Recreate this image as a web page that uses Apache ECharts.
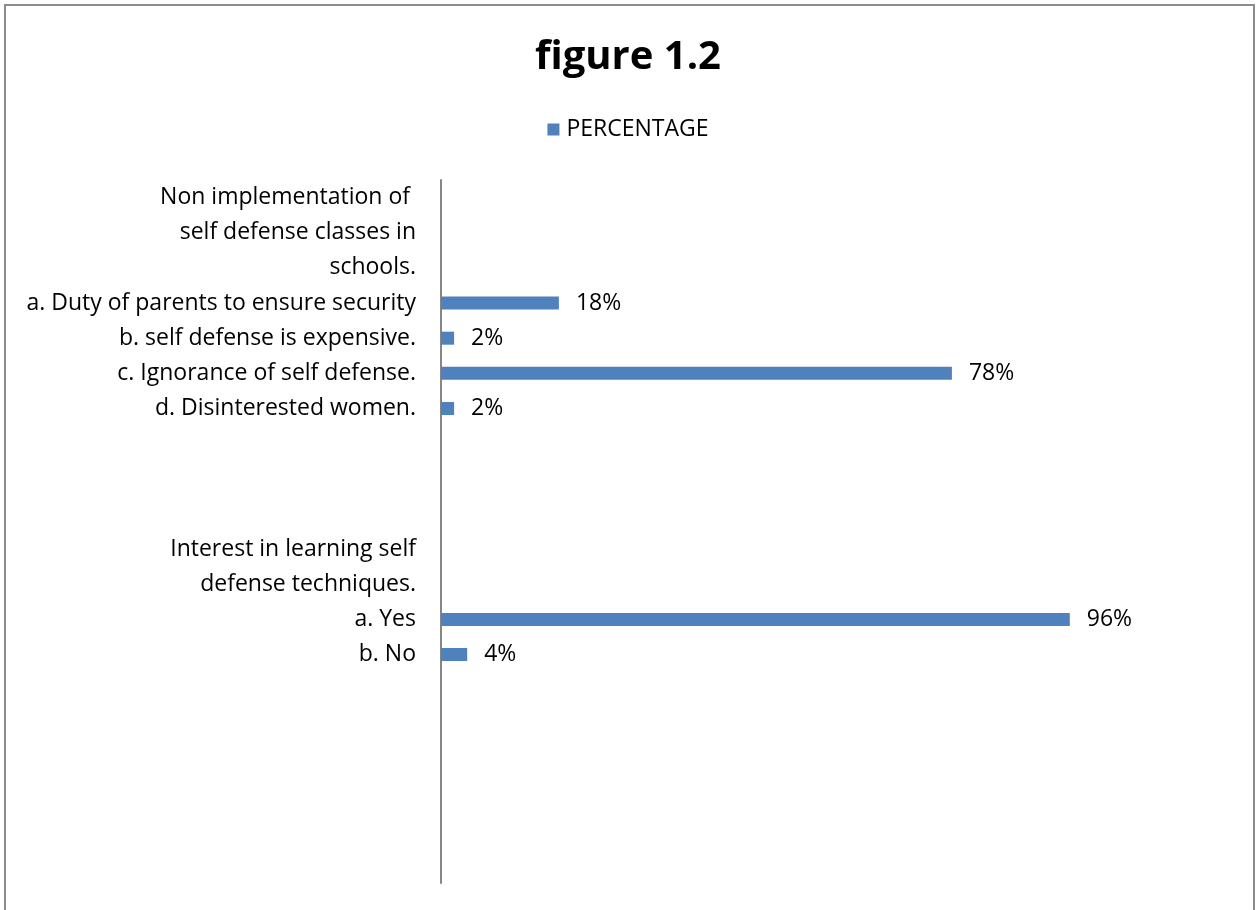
<!DOCTYPE html>
<html>
<head>
<meta charset="utf-8">
<style>
  html, body { margin: 0; padding: 0; background: #fff; }
  #chart { width: 1256px; height: 910px; }
</style>
<script src="https://cdn.jsdelivr.net/npm/echarts@6/dist/echarts.min.js"></script>
</head>
<body>
<div id="chart"></div>
<script>
// Each row of the category axis is one text line; blank rows keep the spacing.
const categories = [
  'Non implementation of ',
  'self defense classes in',
  'schools.',
  'a. Duty of parents to ensure security',
  'b. self defense is expensive.',
  'c. Ignorance of self defense.',
  'd. Disinterested women.',
  '', '', '',
  'Interest in learning self',
  'defense techniques.',
  'a. Yes',
  'b. No',
  '', '', '', '', '', ''
];
// PERCENTAGE values (null where the row is a heading or spacer)
const percentage = [null, null, null, 18, 2, 78, 2, null, null, null, null, null, 96, 4, null, null, null, null, null, null];
const seriesName = 'PERCENTAGE';
const titleText = 'figure 1.2';

const FONT = '"Open Sans", "Noto Sans", sans-serif';
const chart = echarts.init(document.getElementById('chart'));
chart.setOption({
  animation: false,
  backgroundColor: '#ffffff',
  title: {
    text: titleText,
    left: 'center',
    top: 33,
    textStyle: { fontFamily: FONT, fontSize: 40, fontWeight: 'bold', color: '#000' }
  },
  legend: {
    data: [seriesName],
    top: 113,
    left: 'center',
    icon: 'rect',
    itemWidth: 12,
    itemHeight: 12,
    itemGap: 6,
    textStyle: { fontFamily: FONT, fontSize: 23, color: '#000', padding: [0, 0, 0, 2] }
  },
  grid: { left: 441, right: 160, top: 180, bottom: 27, containLabel: false },
  xAxis: {
    type: 'value',
    min: 0,
    max: 100,
    show: false
  },
  yAxis: {
    type: 'category',
    inverse: true,
    data: categories,
    axisLine: { show: true, lineStyle: { color: '#868686', width: 2 } },
    axisTick: { show: false },
    splitLine: { show: false },
    axisLabel: {
      interval: 0,
      margin: 25,
      padding: [4, 0, 0, 0],
      fontFamily: FONT,
      fontSize: 23,
      color: '#000'
    }
  },
  series: [{
    name: seriesName,
    type: 'bar',
    data: percentage,
    barWidth: 13,
    itemStyle: { color: '#4F81BD' },
    label: {
      show: true,
      position: 'right',
      distance: 17,
      padding: [5, 0, 0, 0],
      formatter: p => p.value + '%',
      fontFamily: FONT,
      fontSize: 23,
      color: '#000'
    }
  }],
  graphic: [{
    type: 'rect',
    shape: { x: 5, y: 5, width: 1249, height: 920 },
    style: { fill: 'none', stroke: '#8c8c8c', lineWidth: 2 },
    silent: true
  }]
});
</script>
</body>
</html>
